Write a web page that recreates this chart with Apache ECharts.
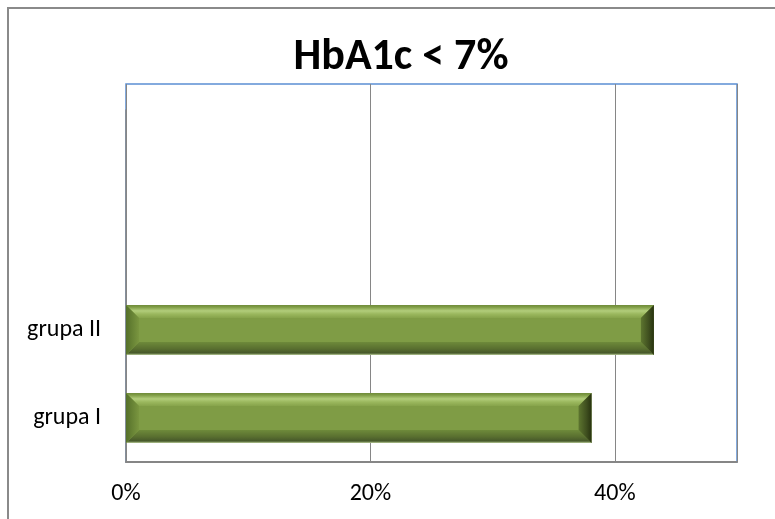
<!DOCTYPE html>
<html>
<head>
<meta charset="utf-8">
<script src="https://cdn.jsdelivr.net/npm/echarts@6/dist/echarts.min.js"></script>
<style>html,body{margin:0;padding:0;background:#fff}#c{width:775px;height:519px}</style>
</head>
<body>
<div id="c"></div>
<script>
const titleText = 'HbA1c < 7%';
const categories = ['grupa I', 'grupa II', '', ''];
const values = [38.1, 43.2, null, null];
const xTicks = [0, 20, 40];
const xMax = 50;

const chart = echarts.init(document.getElementById('c'));
const FONT = 'Carlito, Lato, sans-serif';

function bevelBar(params, api) {
  const v = api.value(1);
  if (v == null || isNaN(v)) return;
  const start = api.coord([0, api.value(0)]);
  const end = api.coord([v, api.value(0)]);
  const band = api.size([0, 1])[1];
  const h = band * 50 / 88;
  const x0 = start[0], x1 = end[0];
  const y0 = start[1] - h / 2, y1 = start[1] + h / 2;
  const d = Math.min(13, (x1 - x0) / 2, h / 2);
  return {
    type: 'group',
    children: [
      { type: 'rect', shape: { x: x0, y: y0, width: x1 - x0, height: h }, style: { fill: '#7f9c45' } },
      { type: 'polygon', shape: { points: [[x0, y0], [x1, y0], [x1 - d, y0 + d], [x0 + d, y0 + d]] },
        style: { fill: new echarts.graphic.LinearGradient(0, 0, 0, 1, [
          { offset: 0, color: '#6f8b3a' }, { offset: 0.15, color: '#7e9b44' },
          { offset: 0.45, color: '#b2cd7b' }, { offset: 0.7, color: '#9ab75d' }, { offset: 1, color: '#86a34b' }]) } },
      { type: 'polygon', shape: { points: [[x0 + d, y1 - d], [x1 - d, y1 - d], [x1, y1], [x0, y1]] },
        style: { fill: new echarts.graphic.LinearGradient(0, 0, 0, 1, [
          { offset: 0, color: '#6e8a3a' }, { offset: 0.5, color: '#5a7030' },
          { offset: 0.85, color: '#46582a' }, { offset: 1, color: '#b9cc98' }]) } },
      { type: 'polygon', shape: { points: [[x0, y0], [x0 + d, y0 + d], [x0 + d, y1 - d], [x0, y1]] },
        style: { fill: new echarts.graphic.LinearGradient(0, 0, 1, 0, [
          { offset: 0, color: '#55702a' }, { offset: 1, color: '#7a9640' }]) } },
      { type: 'polygon', shape: { points: [[x1, y0], [x1, y1], [x1 - d, y1 - d], [x1 - d, y0 + d]] },
        style: { fill: new echarts.graphic.LinearGradient(0, 0, 1, 0, [
          { offset: 0, color: '#5d752f' }, { offset: 0.6, color: '#3f4f1f' }, { offset: 1, color: '#27320f' }]) } }
    ]
  };
}

chart.setOption({
  animation: false,
  backgroundColor: '#ffffff',
  title: {
    text: titleText,
    left: 396, top: 31, textAlign: 'center',
    textStyle: { fontFamily: FONT, fontWeight: 'bold', fontSize: 44, color: '#000' }
  },
  graphic: [{
    type: 'rect', silent: true, z: -1,
    shape: { x: 8, y: 8, width: 820, height: 600 },
    style: { fill: null, stroke: '#8a8a8a', lineWidth: 2 }
  }],
  grid: [
    { left: 126, right: 38, top: 84, bottom: 57, show: true, borderColor: '#5b8fd4', borderWidth: 1.5, backgroundColor: 'transparent' },
    { left: 126, right: 38, top: 110, bottom: 57 }
  ],
  xAxis: [
    { type: 'value', gridIndex: 0, min: 0, max: xMax, interval: 20,
      axisLine: { show: true, lineStyle: { color: '#868686', width: 2 } },
      axisTick: { show: false },
      splitLine: { show: true, lineStyle: { color: '#868686', width: 1 } },
      axisLabel: { margin: 20, fontFamily: FONT, fontSize: 24, color: '#000',
        formatter: v => xTicks.indexOf(v) >= 0 ? v + '%' : '' } },
    { type: 'value', gridIndex: 1, min: 0, max: xMax, show: false }
  ],
  yAxis: [
    { type: 'value', gridIndex: 0, show: false, min: 0, max: 1 },
    { type: 'category', gridIndex: 1, data: categories,
      axisLine: { show: true, lineStyle: { color: '#868686', width: 1.5 } },
      axisTick: { show: false },
      axisLabel: { margin: 25, fontFamily: FONT, fontSize: 24, color: '#000' } }
  ],
  series: [{
    type: 'custom', xAxisIndex: 1, yAxisIndex: 1,
    renderItem: bevelBar,
    encode: { x: 1, y: 0 },
    data: categories.map((c, i) => [i, values[i]])
  }]
});
</script>
</body>
</html>
